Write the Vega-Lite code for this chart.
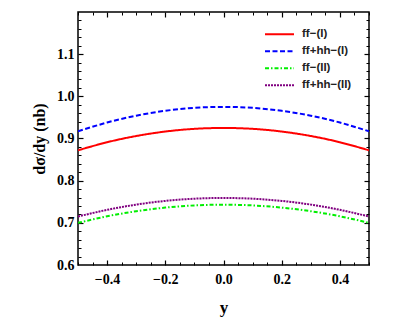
{
  "$schema": "https://vega.github.io/schema/vega-lite/v6.json",
  "width": 291,
  "height": 253,
  "autosize": {"type": "none"},
  "padding": {"left": 78, "top": 12, "right": 40, "bottom": 62},
  "background": "white",
  "config": {
    "view": {"stroke": "black", "strokeWidth": 1.5},
    "axis": {"grid": false, "domain": false},
    "legend": {"orient": "none", "legendX": 186, "legendY": 14, "title": null, "symbolType": "stroke", "symbolSize": 840, "symbolStrokeWidth": 2,
      "labelFont": "Liberation Sans", "labelFontWeight": "bold", "labelFontSize": 11.5, "labelColor": "#222", "labelOffset": 7, "rowPadding": 0, "clipHeight": 16.4, "padding": 0}
  },
  "datasets": {
    "curves": [
      {"y": -0.5, "v": 0.872, "s": "ff−(I)"}, {"y": -0.4, "v": 0.8911, "s": "ff−(I)"}, {"y": -0.3, "v": 0.9059, "s": "ff−(I)"}, {"y": -0.2, "v": 0.9165, "s": "ff−(I)"}, {"y": -0.1, "v": 0.9229, "s": "ff−(I)"}, {"y": 0.0, "v": 0.925, "s": "ff−(I)"}, {"y": 0.1, "v": 0.9229, "s": "ff−(I)"}, {"y": 0.2, "v": 0.9165, "s": "ff−(I)"}, {"y": 0.3, "v": 0.9059, "s": "ff−(I)"}, {"y": 0.4, "v": 0.8911, "s": "ff−(I)"}, {"y": 0.5, "v": 0.872, "s": "ff−(I)"},
      {"y": -0.5, "v": 0.917, "s": "ff+hh−(I)"}, {"y": -0.4, "v": 0.9379, "s": "ff+hh−(I)"}, {"y": -0.3, "v": 0.9541, "s": "ff+hh−(I)"}, {"y": -0.2, "v": 0.9657, "s": "ff+hh−(I)"}, {"y": -0.1, "v": 0.9727, "s": "ff+hh−(I)"}, {"y": 0.0, "v": 0.975, "s": "ff+hh−(I)"}, {"y": 0.1, "v": 0.9727, "s": "ff+hh−(I)"}, {"y": 0.2, "v": 0.9657, "s": "ff+hh−(I)"}, {"y": 0.3, "v": 0.9541, "s": "ff+hh−(I)"}, {"y": 0.4, "v": 0.9379, "s": "ff+hh−(I)"}, {"y": 0.5, "v": 0.917, "s": "ff+hh−(I)"},
      {"y": -0.5, "v": 0.700, "s": "ff−(II)"}, {"y": -0.4, "v": 0.7155, "s": "ff−(II)"}, {"y": -0.3, "v": 0.7275, "s": "ff−(II)"}, {"y": -0.2, "v": 0.7361, "s": "ff−(II)"}, {"y": -0.1, "v": 0.7413, "s": "ff−(II)"}, {"y": 0.0, "v": 0.743, "s": "ff−(II)"}, {"y": 0.1, "v": 0.7413, "s": "ff−(II)"}, {"y": 0.2, "v": 0.7361, "s": "ff−(II)"}, {"y": 0.3, "v": 0.7275, "s": "ff−(II)"}, {"y": 0.4, "v": 0.7155, "s": "ff−(II)"}, {"y": 0.5, "v": 0.700, "s": "ff−(II)"},
      {"y": -0.5, "v": 0.715, "s": "ff+hh−(II)"}, {"y": -0.4, "v": 0.7308, "s": "ff+hh−(II)"}, {"y": -0.3, "v": 0.7432, "s": "ff+hh−(II)"}, {"y": -0.2, "v": 0.752, "s": "ff+hh−(II)"}, {"y": -0.1, "v": 0.7572, "s": "ff+hh−(II)"}, {"y": 0.0, "v": 0.759, "s": "ff+hh−(II)"}, {"y": 0.1, "v": 0.7572, "s": "ff+hh−(II)"}, {"y": 0.2, "v": 0.752, "s": "ff+hh−(II)"}, {"y": 0.3, "v": 0.7432, "s": "ff+hh−(II)"}, {"y": 0.4, "v": 0.7308, "s": "ff+hh−(II)"}, {"y": 0.5, "v": 0.715, "s": "ff+hh−(II)"}
    ]
  },
  "data": {"name": "curves"},
  "resolve": {"axis": {"x": "independent", "y": "independent"}},
  "layer": [
    {
      "mark": {"type": "line", "strokeWidth": 2, "interpolate": "natural", "clip": true},
      "encoding": {
        "x": {"field": "y", "type": "quantitative",
          "scale": {"domain": [-0.5, 0.5], "nice": false, "zero": false},
          "axis": {"orient": "bottom", "values": [-0.4, -0.2, 0, 0.2, 0.4], "format": ".1f", "ticks": false,
            "labelFont": "Liberation Serif", "labelFontWeight": "bold", "labelFontSize": 14, "labelColor": "black", "labelPadding": 7,
            "title": "y", "titleFont": "Liberation Serif", "titleFontWeight": "bold", "titleFontSize": 17, "titleColor": "black", "titlePadding": 13}},
        "y": {"field": "v", "type": "quantitative",
          "scale": {"domain": [0.6, 1.2], "nice": false, "zero": false},
          "axis": {"orient": "left", "values": [0.6, 0.7, 0.8, 0.9, 1.0, 1.1], "format": ".1f", "ticks": false,
            "labelFont": "Liberation Serif", "labelFontWeight": "bold", "labelFontSize": 14, "labelColor": "black", "labelPadding": 4,
            "title": "dσ/dy (nb)", "titleFont": "Liberation Serif", "titleFontWeight": "bold", "titleFontSize": 16, "titleColor": "black", "titlePadding": 9}},
        "color": {"field": "s", "type": "nominal",
          "scale": {"domain": ["ff−(I)", "ff+hh−(I)", "ff−(II)", "ff+hh−(II)"], "range": ["#FF0000", "#0000FF", "#00EE00", "#800080"]}},
        "strokeDash": {"field": "s", "type": "nominal",
          "scale": {"domain": ["ff−(I)", "ff+hh−(I)", "ff−(II)", "ff+hh−(II)"], "range": [[1, 0], [5, 2.5], [4, 2, 1.5, 2], [2, 1]]}}
      }
    },
    {
      "mark": {"type": "line", "opacity": 0},
      "encoding": {
        "x": {"field": "y", "type": "quantitative",
          "axis": {"orient": "bottom", "values": [-0.5, -0.45, -0.35, -0.3, -0.25, -0.15, -0.1, -0.05, 0.05, 0.1, 0.15, 0.25, 0.3, 0.35, 0.45, 0.5], "tickSize": -3, "tickWidth": 1, "tickColor": "black", "labels": false, "title": null}},
        "y": {"field": "v", "type": "quantitative",
          "axis": {"orient": "left", "values": [0.62, 0.64, 0.66, 0.68, 0.72, 0.74, 0.76, 0.78, 0.82, 0.84, 0.86, 0.88, 0.92, 0.94, 0.96, 0.98, 1.02, 1.04, 1.06, 1.08, 1.12, 1.14, 1.16, 1.18], "tickSize": -3, "tickWidth": 1, "tickColor": "black", "labels": false, "title": null}}
      }
    },
    {
      "mark": {"type": "line", "opacity": 0},
      "encoding": {
        "x": {"field": "y", "type": "quantitative",
          "axis": {"orient": "bottom", "values": [-0.4, -0.2, 0, 0.2, 0.4], "tickSize": -5, "tickWidth": 1.2, "tickColor": "black", "labels": false, "title": null}},
        "y": {"field": "v", "type": "quantitative",
          "axis": {"orient": "left", "values": [0.7, 0.8, 0.9, 1.0, 1.1], "tickSize": -5, "tickWidth": 1.2, "tickColor": "black", "labels": false, "title": null}}
      }
    },
    {
      "mark": {"type": "line", "opacity": 0},
      "encoding": {
        "x": {"field": "y", "type": "quantitative",
          "axis": {"orient": "top", "values": [-0.5, -0.45, -0.35, -0.3, -0.25, -0.15, -0.1, -0.05, 0.05, 0.1, 0.15, 0.25, 0.3, 0.35, 0.45, 0.5], "tickSize": -3, "tickWidth": 1, "tickColor": "black", "labels": false, "title": null}},
        "y": {"field": "v", "type": "quantitative",
          "axis": {"orient": "right", "values": [0.62, 0.64, 0.66, 0.68, 0.72, 0.74, 0.76, 0.78, 0.82, 0.84, 0.86, 0.88, 0.92, 0.94, 0.96, 0.98, 1.02, 1.04, 1.06, 1.08, 1.12, 1.14, 1.16, 1.18], "tickSize": -3, "tickWidth": 1, "tickColor": "black", "labels": false, "title": null}}
      }
    },
    {
      "mark": {"type": "line", "opacity": 0},
      "encoding": {
        "x": {"field": "y", "type": "quantitative",
          "axis": {"orient": "top", "values": [-0.4, -0.2, 0, 0.2, 0.4], "tickSize": -5, "tickWidth": 1.2, "tickColor": "black", "labels": false, "title": null}},
        "y": {"field": "v", "type": "quantitative",
          "axis": {"orient": "right", "values": [0.7, 0.8, 0.9, 1.0, 1.1], "tickSize": -5, "tickWidth": 1.2, "tickColor": "black", "labels": false, "title": null}}
      }
    }
  ]
}
